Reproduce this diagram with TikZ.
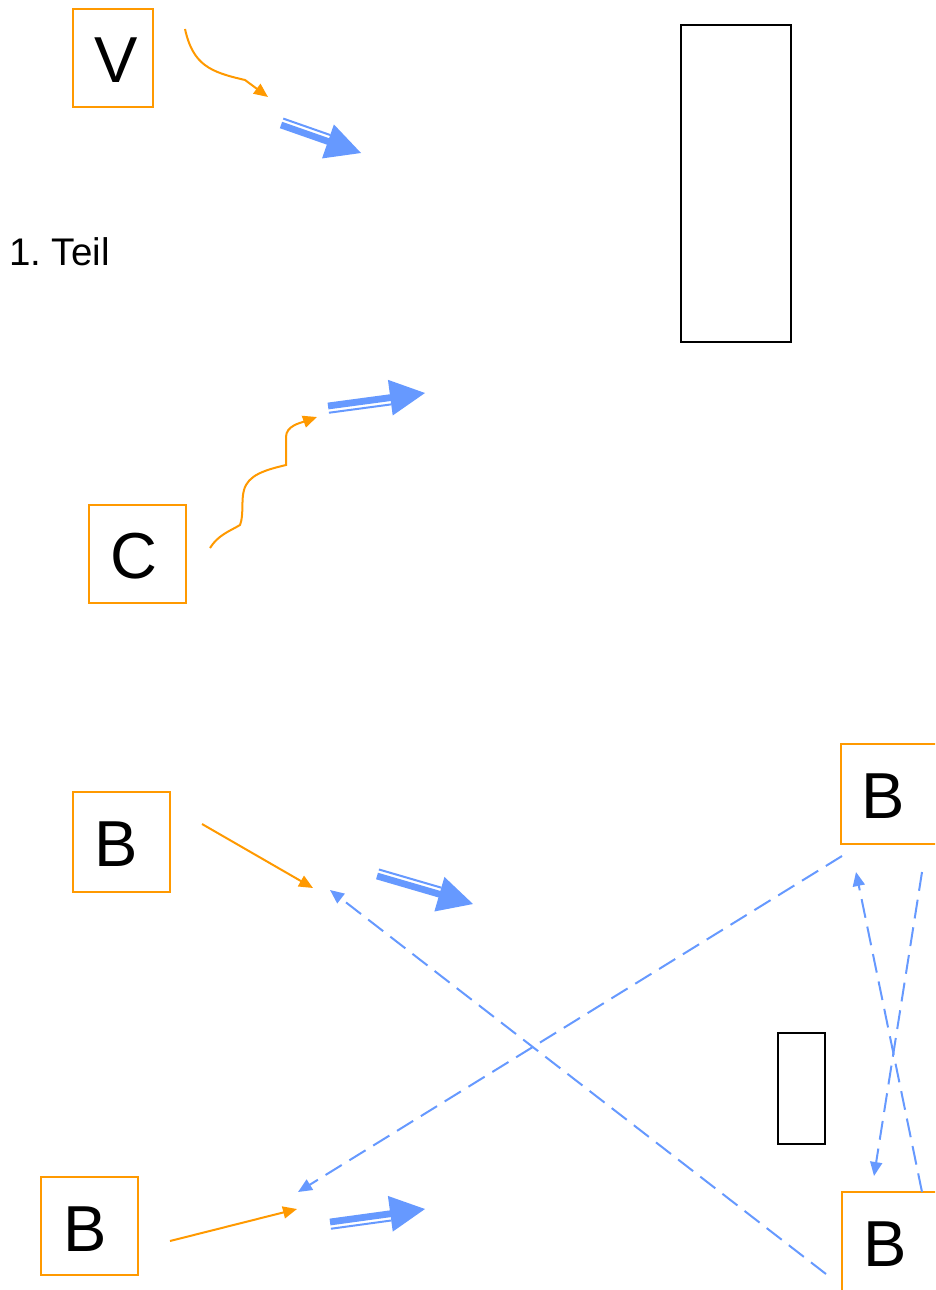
\documentclass[tikz,border=0pt]{standalone}
\usepackage{fontspec}
\setmainfont{Liberation Sans}
\usetikzlibrary{calc,arrows.meta}
\definecolor{orng}{HTML}{FF9900}
\definecolor{blu}{HTML}{6699FF}
\newcommand\dblarr[3]{%
  \path ($(#2)!35pt!(#1)$) coordinate (hc);
  \draw[blu, line width=6.8pt] (#1) -- ($(#2)!30pt!(#1)$);
  \draw[blu, line width=2pt] ($(#1)!6.8pt!#3:(#2)$) -- ($(hc)!6.8pt!#3:(#2)$);
  \fill[blu] (#2) -- ($(hc)!18pt!90:(#2)$) -- ($(hc)!18pt!-90:(#2)$) -- cycle;
}
\begin{document}
\begin{tikzpicture}[x=1pt,y=-1pt,
  obox/.style={draw=orng, line width=2.5pt, rectangle, inner sep=0pt},
  kbox/.style={draw=black, line width=2.5pt, rectangle, inner sep=0pt},
  big/.style={font=\fontsize{65}{70}\selectfont, inner sep=0pt, anchor=base},
  oarr/.style={orng, line width=2pt, -{Triangle[length=14pt,width=12pt]}},
  darr/.style={blu, line width=2pt, dash pattern=on 19pt off 9pt, -{Triangle[length=14pt,width=12pt]}}]
\useasboundingbox (0,0) rectangle (935,1290);
\clip (0,0) rectangle (935,1290);

% boxes
\node[obox, minimum width=80pt, minimum height=98pt] (Vbox) at (113,58) {};
\node[big] (V) at (116,82) {V};
\node[obox, minimum width=97pt, minimum height=98pt] (Cbox) at (137.5,554) {};
\node[big] (C) at (134,578) {C};
\node[obox, minimum width=97pt, minimum height=100pt] (B1box) at (121.5,842) {};
\node[big] (B1) at (116,866) {B};
\node[obox, minimum width=97pt, minimum height=98pt] (B2box) at (89.5,1226) {};
\node[big] (B2) at (85,1251) {B};
\node[obox, minimum width=109pt, minimum height=100pt] (B3box) at (895.5,794) {};
\node[big] (B3) at (883.5,818) {B};
\node[obox, minimum width=108pt, minimum height=108pt] (B4box) at (896,1246) {};
\node[big] (B4) at (885,1266) {B};

\node[kbox, minimum width=110pt, minimum height=317pt] (wall) at (736,183.5) {};
\node[kbox, minimum width=47pt, minimum height=111pt] (small) at (801.5,1088.5) {};

\node[font=\fontsize{38.5}{42}\selectfont, anchor=base west, inner sep=0pt] (teil) at (9,265) {1.\ Teil};

% orange arrows
\coordinate (v0) at (185,29); \coordinate (v1) at (268,97);
\draw[oarr] (v0) .. controls (193,65) and (210,72) .. (245,80) -- (v1);
\coordinate (c0) at (210,548); \coordinate (c1) at (317,417);
\draw[oarr] (c0) .. controls (218,535) and (230,531) .. (240,525)
  .. controls (244,515) and (241,500) .. (244,490)
  .. controls (248,475) and (265,470) .. (286,465) -- (286,437)
  .. controls (286,426) and (300,423) .. (c1);
\coordinate (b10) at (202,824); \coordinate (b11) at (313,888);
\draw[oarr] (b10) -- (b11);
\coordinate (b20) at (170,1241); \coordinate (b21) at (297,1209);
\draw[oarr] (b20) -- (b21);

% blue double arrows
\coordinate (a1s) at (281,125); \coordinate (a1e) at (361,153);
\dblarr{a1s}{a1e}{90}
\coordinate (a2s) at (328,406); \coordinate (a2e) at (425,393);
\dblarr{a2s}{a2e}{-90}
\coordinate (a3s) at (377,876); \coordinate (a3e) at (473,904);
\dblarr{a3s}{a3e}{90}
\coordinate (a4s) at (330,1222); \coordinate (a4e) at (425,1209);
\dblarr{a4s}{a4e}{-90}

% dashed blue arrows
\coordinate (d1s) at (842,856); \coordinate (d1e) at (298,1192);
\draw[darr] (d1s) -- (d1e);
\coordinate (d2s) at (826,1274); \coordinate (d2e) at (330,890);
\draw[darr] (d2s) -- (d2e);
\coordinate (d3s) at (922,872); \coordinate (d3e) at (874,1176);
\draw[darr] (d3s) -- (d3e);
\coordinate (d4s) at (922,1192); \coordinate (d4e) at (856,872);
\draw[darr] (d4s) -- (d4e);
\end{tikzpicture}
\end{document}
